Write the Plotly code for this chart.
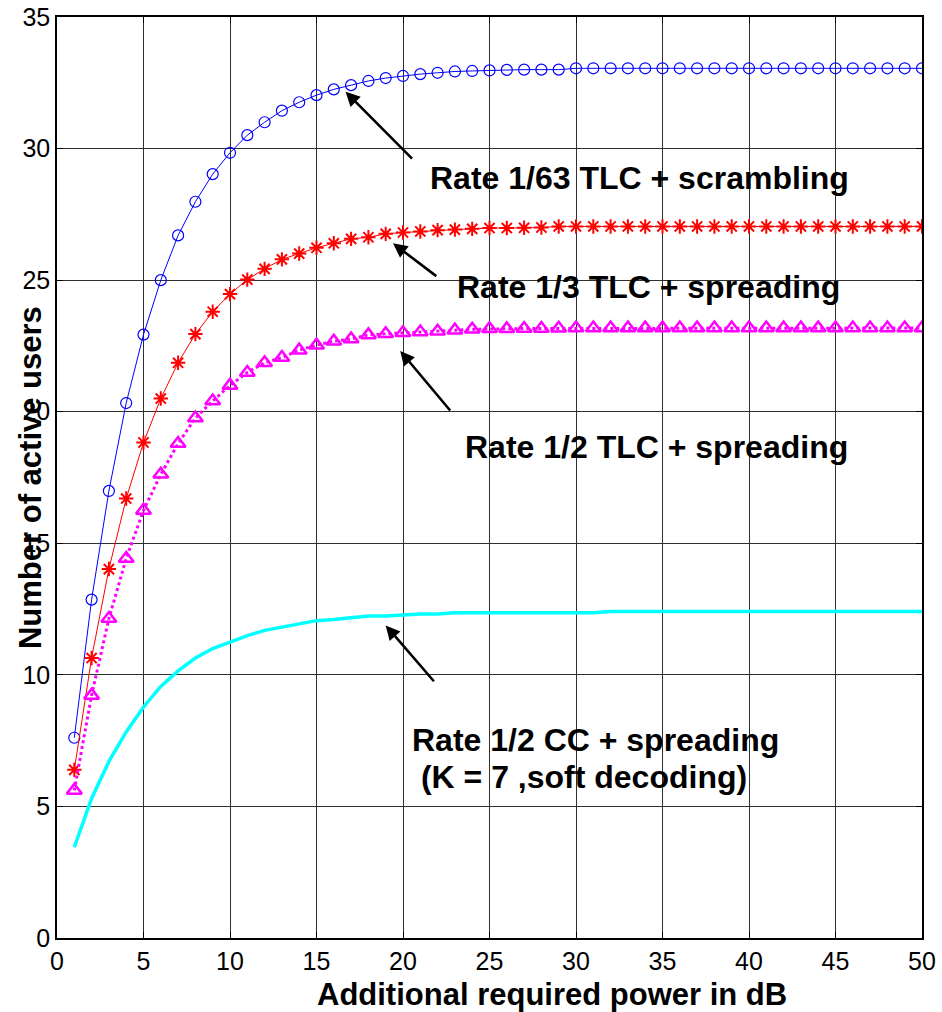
import plotly.graph_objects as go

# ---------------- data ----------------
power_db = list(range(1, 51))

tlc_1_63_scrambling = [
    7.61, 12.86, 16.99, 20.33, 22.93, 25.00, 26.70, 27.98, 29.03, 29.84,
    30.51, 31.00, 31.44, 31.76, 32.03, 32.25, 32.41, 32.57, 32.68, 32.76,
    32.83, 32.88, 32.93, 32.95, 32.97, 32.99, 33.00, 33.00, 33.00, 33.05,
    33.05, 33.05, 33.05, 33.05, 33.05, 33.05, 33.05, 33.05, 33.05, 33.05,
    33.05, 33.05, 33.05, 33.05, 33.05, 33.05, 33.05, 33.05, 33.05, 33.05,
]

tlc_1_3_spreading = [
    6.39, 10.64, 14.02, 16.70, 18.83, 20.50, 21.86, 22.95, 23.80, 24.47,
    25.02, 25.43, 25.79, 26.01, 26.23, 26.40, 26.57, 26.63, 26.76, 26.81,
    26.85, 26.90, 26.92, 26.95, 26.98, 26.98, 26.99, 27.00, 27.04, 27.04,
    27.04, 27.04, 27.04, 27.04, 27.04, 27.04, 27.04, 27.04, 27.04, 27.04,
    27.04, 27.04, 27.04, 27.04, 27.04, 27.04, 27.04, 27.04, 27.04, 27.04,
]

tlc_1_2_spreading = [
    5.61, 9.22, 12.14, 14.42, 16.25, 17.62, 18.79, 19.76, 20.41, 21.00,
    21.49, 21.86, 22.06, 22.34, 22.53, 22.68, 22.76, 22.92, 22.96, 23.00,
    23.03, 23.06, 23.10, 23.13, 23.15, 23.15, 23.16, 23.16, 23.17, 23.18,
    23.18, 23.18, 23.18, 23.18, 23.18, 23.18, 23.18, 23.18, 23.18, 23.18,
    23.18, 23.18, 23.18, 23.18, 23.18, 23.18, 23.18, 23.18, 23.18, 23.18,
]

cc_1_2_spreading = [
    3.45, 5.30, 6.71, 7.83, 8.78, 9.56, 10.15, 10.64, 11.00, 11.25,
    11.49, 11.69, 11.82, 11.95, 12.06, 12.10, 12.17, 12.24, 12.24, 12.29,
    12.31, 12.31, 12.36, 12.36, 12.36, 12.36, 12.36, 12.36, 12.36, 12.36,
    12.36, 12.41, 12.41, 12.41, 12.41, 12.41, 12.41, 12.41, 12.41, 12.41,
    12.41, 12.41, 12.41, 12.41, 12.41, 12.41, 12.41, 12.41, 12.41, 12.41,
]

x_ticks = [0, 5, 10, 15, 20, 25, 30, 35, 40, 45, 50]
y_ticks = [0, 5, 10, 15, 20, 25, 30, 35]

x_title = "Additional required power in dB"
y_title = "Number of active users"

# label texts with text position in data units
labels = [
    ("Rate 1/63 TLC + scrambling", 33.67, 28.88),
    ("Rate 1/3 TLC + spreading", 34.19, 24.73),
    ("Rate 1/2 TLC + spreading", 34.65, 18.66),
]
cc_label_lines = [
    ("Rate 1/2 CC + spreading", 20.43, 7.51),
    ("\u00a0(K = 7 ,soft decoding)", 20.43, 6.11),
]
arrows = [
    # tail_x, tail_y, tip_x, tip_y
    (20.61, 29.56, 16.68, 32.16),
    (22.01, 25.11, 19.42, 26.40),
    (22.80, 19.99, 19.84, 22.31),
    (21.86, 9.70, 19.00, 11.88),
]

FONT = "Arial, 'Liberation Sans', Helvetica, sans-serif"

fig = go.Figure()

fig.add_trace(go.Scatter(
    x=power_db, y=tlc_1_63_scrambling, mode="lines+markers",
    line=dict(color="#0000ff", width=1),
    marker=dict(symbol="circle-open", size=11, color="#0000ff",
                line=dict(width=1.2, color="#0000ff")),
    showlegend=False,
))
fig.add_trace(go.Scatter(
    x=power_db, y=tlc_1_3_spreading, mode="lines+markers",
    line=dict(color="#ff0000", width=1),
    marker=dict(symbol="asterisk-open", size=12, color="#ff0000",
                line=dict(width=2, color="#ff0000")),
    showlegend=False,
))
fig.add_trace(go.Scatter(
    x=power_db, y=tlc_1_2_spreading, mode="lines+markers",
    line=dict(color="#ff00ff", width=3, dash="dot"),
    marker=dict(symbol="triangle-up-open", size=13, color="#ff00ff",
                line=dict(width=2.5, color="#ff00ff")),
    showlegend=False,
))
fig.add_trace(go.Scatter(
    x=power_db, y=cc_1_2_spreading, mode="lines",
    line=dict(color="#00ffff", width=3.5),
    showlegend=False,
))

annotations = []
for text, x, y in labels:
    annotations.append(dict(
        x=x, y=y, xref="x", yref="y", text=text, showarrow=False,
        xanchor="center", yanchor="middle",
        font=dict(family=FONT, size=32, color="black", weight="bold"),
    ))
for text, x, y in cc_label_lines:
    annotations.append(dict(
        x=x, y=y, xref="x", yref="y", text=text, showarrow=False,
        xanchor="left", yanchor="middle",
        font=dict(family=FONT, size=32, color="black", weight="bold"),
    ))
for tx, ty, hx, hy in arrows:
    annotations.append(dict(
        x=hx, y=hy, ax=tx, ay=ty, xref="x", yref="y", axref="x", ayref="y",
        text="", showarrow=True, arrowhead=2, arrowsize=1.1, arrowwidth=2.6,
        arrowcolor="black", standoff=0, startstandoff=0,
    ))

annotations.append(dict(
    x=0.572, y=-0.0615, xref="paper", yref="paper", text=x_title,
    showarrow=False, xanchor="center", yanchor="middle",
    font=dict(family=FONT, size=31, color="black", weight="bold"),
))
annotations.append(dict(
    x=-0.0306, y=0.5, xref="paper", yref="paper", text=y_title,
    showarrow=False, xanchor="center", yanchor="middle", textangle=-90,
    font=dict(family=FONT, size=31, color="black", weight="bold"),
))

fig.update_layout(
    width=942, height=1012,
    margin=dict(l=57, r=20, t=17, b=74, autoexpand=False),
    paper_bgcolor="white", plot_bgcolor="white",
    annotations=annotations,
    font=dict(family=FONT, color="black"),
)
fig.update_xaxes(
    range=[0, 50], tickvals=x_ticks, ticktext=[str(v) for v in x_ticks],
    showgrid=True, gridcolor="#303030", gridwidth=1,
    showline=True, linecolor="black", linewidth=1.5, mirror="ticks",
    ticks="inside", ticklen=6, tickcolor="black",
    tickfont=dict(family=FONT, size=25, color="black"),
    zeroline=False, automargin=False,
)
fig.update_yaxes(
    range=[0, 35], tickvals=y_ticks, ticktext=[str(v) for v in y_ticks],
    showgrid=True, gridcolor="#303030", gridwidth=1,
    showline=True, linecolor="black", linewidth=1.5, mirror="ticks",
    ticks="inside", ticklen=6, tickcolor="black",
    tickfont=dict(family=FONT, size=25, color="black"),
    zeroline=False, automargin=False,
)

fig.write_html(
    "out.html",
    config={"displayModeBar": False},
    post_script="document.body.style.margin='0px';document.body.style.overflow='hidden';",
)
